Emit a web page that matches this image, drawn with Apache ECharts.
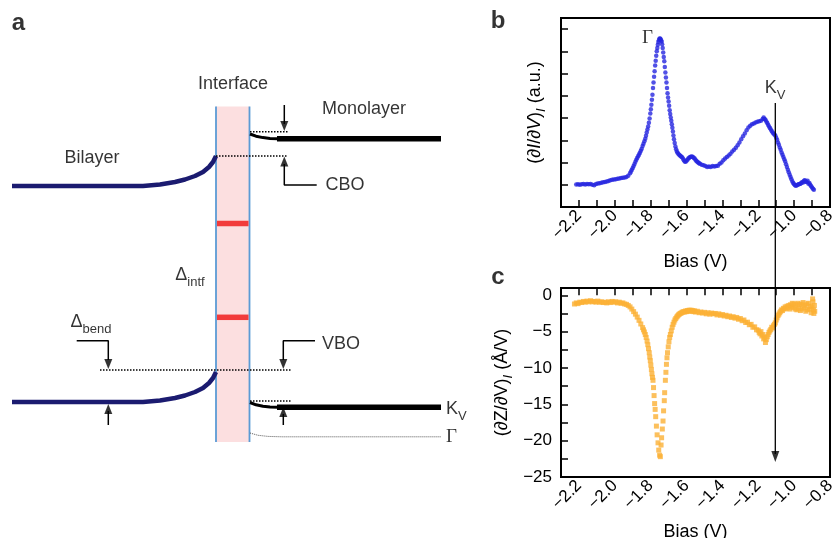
<!DOCTYPE html>
<html>
<head>
<meta charset="utf-8">
<style>html,body{margin:0;padding:0;background:#fff}#chart{width:834px;height:538px}</style>
<script src="https://cdn.jsdelivr.net/npm/echarts@6/dist/echarts.min.js"></script>
</head>
<body>
<div id="chart"></div>
<script>
// ---- panel b : (dI/dV) spectrum, [bias (V), a.u.] ----
const didvB = [
  [-2.215,1.01],[-2.205,1.02],[-2.195,1.00],[-2.185,1.02],[-2.175,1.03],[-2.165,1.01],[-2.155,1.03],[-2.145,1.02],
  [-2.135,1.04],[-2.125,1.00],[-2.115,0.98],[-2.105,1.04],[-2.095,1.06],[-2.085,1.07],[-2.075,1.09],[-2.065,1.11],
  [-2.055,1.12],[-2.045,1.15],[-2.035,1.17],[-2.025,1.20],[-2.015,1.22],[-2.005,1.24],[-1.995,1.25],[-1.985,1.27],
  [-1.975,1.28],[-1.965,1.30],[-1.955,1.31],[-1.945,1.33],[-1.935,1.35],[-1.925,1.40],[-1.915,1.52],[-1.910,1.60],
  [-1.905,1.68],[-1.900,1.75],[-1.895,1.84],[-1.890,1.93],[-1.885,2.03],[-1.880,2.12],[-1.875,2.20],[-1.870,2.28],
  [-1.865,2.36],[-1.860,2.44],[-1.855,2.53],[-1.850,2.62],[-1.845,2.74],[-1.840,2.85],[-1.835,2.96],[-1.830,3.07],
  [-1.826,3.20],[-1.822,3.35],[-1.818,3.48],[-1.814,3.62],[-1.810,3.79],[-1.806,3.98],[-1.802,4.20],[-1.799,4.40],
  [-1.796,4.60],[-1.793,4.82],[-1.790,5.05],[-1.787,5.35],[-1.784,5.60],[-1.781,5.86],[-1.778,6.10],[-1.775,6.36],
  [-1.772,6.58],[-1.769,6.80],[-1.766,7.00],[-1.763,7.15],[-1.760,7.30],[-1.757,7.42],[-1.754,7.50],[-1.751,7.57],
  [-1.748,7.58],[-1.745,7.55],[-1.742,7.50],[-1.739,7.44],[-1.736,7.32],[-1.733,7.15],[-1.730,6.95],[-1.727,6.75],
  [-1.724,6.55],[-1.721,6.30],[-1.718,6.05],[-1.715,5.82],[-1.712,5.60],[-1.709,5.35],[-1.706,5.12],[-1.703,4.92],
  [-1.700,4.75],[-1.697,4.55],[-1.694,4.35],[-1.691,4.18],[-1.688,4.02],[-1.685,3.88],[-1.682,3.72],[-1.679,3.56],
  [-1.676,3.40],[-1.673,3.22],[-1.670,3.05],[-1.666,2.88],[-1.662,2.72],[-1.658,2.60],[-1.654,2.50],[-1.650,2.44],
  [-1.645,2.38],[-1.640,2.34],[-1.635,2.30],[-1.630,2.27],[-1.625,2.24],[-1.620,2.18],[-1.615,2.10],[-1.610,2.05],
  [-1.605,2.03],[-1.600,2.08],[-1.595,2.13],[-1.590,2.18],[-1.585,2.22],[-1.580,2.25],[-1.575,2.26],[-1.570,2.27],
  [-1.565,2.25],[-1.560,2.22],[-1.555,2.18],[-1.550,2.12],[-1.545,2.07],[-1.540,2.03],[-1.535,2.00],[-1.530,1.97],
  [-1.525,1.95],[-1.515,1.90],[-1.505,1.88],[-1.495,1.84],[-1.485,1.80],[-1.475,1.82],[-1.465,1.80],[-1.455,1.84],
  [-1.445,1.82],[-1.435,1.84],[-1.425,1.86],[-1.415,1.95],[-1.405,2.00],[-1.395,2.10],[-1.385,2.18],[-1.375,2.25],
  [-1.365,2.32],[-1.355,2.40],[-1.345,2.50],[-1.335,2.58],[-1.325,2.66],[-1.315,2.78],[-1.305,2.90],[-1.295,3.05],
  [-1.285,3.18],[-1.275,3.30],[-1.265,3.45],[-1.255,3.58],[-1.245,3.65],[-1.235,3.72],[-1.225,3.76],[-1.215,3.80],
  [-1.205,3.83],[-1.195,3.86],[-1.185,3.88],[-1.175,3.96],[-1.170,4.02],[-1.165,3.96],[-1.160,3.92],[-1.155,3.85],
  [-1.150,3.78],[-1.145,3.70],[-1.140,3.62],[-1.135,3.55],[-1.130,3.48],[-1.125,3.42],[-1.120,3.35],[-1.115,3.30],
  [-1.110,3.26],[-1.105,3.22],[-1.100,3.12],[-1.095,3.02],[-1.090,2.90],[-1.085,2.80],[-1.080,2.68],[-1.075,2.58],
  [-1.070,2.45],[-1.065,2.35],[-1.060,2.25],[-1.055,2.15],[-1.050,2.05],[-1.045,1.92],[-1.040,1.80],[-1.035,1.68],
  [-1.030,1.56],[-1.025,1.45],[-1.020,1.35],[-1.015,1.25],[-1.010,1.15],[-1.005,1.08],[-1.000,1.02],[-0.995,0.98],
  [-0.990,0.96],[-0.985,0.98],[-0.980,1.00],[-0.975,1.02],[-0.970,1.03],[-0.965,1.05],[-0.960,1.08],[-0.955,1.12],
  [-0.950,1.10],[-0.945,1.18],[-0.940,1.20],[-0.935,1.14],[-0.930,1.12],[-0.925,1.18],[-0.920,1.05],[-0.915,1.08],
  [-0.910,1.00],[-0.905,0.93],[-0.900,0.88],[-0.895,0.82],[-0.890,0.78]
];

// ---- panel c : (dZ/dV) spectrum, [bias (V), Å/V] ----
const dzdvC = [
  [-2.225,-1.20],[-2.215,-1.05],[-2.205,-1.15],[-2.195,-0.95],[-2.185,-1.00],[-2.175,-0.85],[-2.165,-0.95],[-2.155,-0.80],
  [-2.145,-0.90],[-2.135,-0.75],[-2.125,-0.90],[-2.115,-0.85],[-2.105,-0.95],[-2.095,-0.80],[-2.085,-0.95],[-2.075,-0.90],
  [-2.065,-1.00],[-2.055,-0.95],[-2.045,-1.05],[-2.035,-0.90],[-2.025,-1.00],[-2.015,-0.85],[-2.005,-0.95],[-1.995,-0.90],
  [-1.985,-1.05],[-1.975,-0.95],[-1.965,-1.10],[-1.955,-1.05],[-1.945,-1.20],[-1.935,-1.25],[-1.925,-1.40],[-1.915,-1.60],
  [-1.905,-1.90],[-1.895,-2.25],[-1.885,-2.60],[-1.875,-3.00],[-1.865,-3.45],[-1.855,-3.95],[-1.845,-4.45],[-1.840,-4.75],
  [-1.835,-5.05],[-1.830,-5.40],[-1.825,-5.80],[-1.820,-6.30],[-1.816,-6.80],[-1.812,-7.35],[-1.808,-7.90],[-1.805,-8.50],
  [-1.802,-9.00],[-1.799,-9.60],[-1.796,-10.20],[-1.793,-10.80],[-1.790,-11.30],[-1.787,-11.70],[-1.784,-12.70],[-1.781,-13.80],
  [-1.778,-14.90],[-1.775,-15.70],[-1.772,-16.70],[-1.768,-18.00],[-1.764,-19.20],[-1.759,-20.30],[-1.755,-21.30],[-1.750,-22.00],
  [-1.746,-22.20],[-1.742,-20.60],[-1.739,-19.60],[-1.735,-18.40],[-1.731,-17.30],[-1.728,-15.90],[-1.724,-14.50],[-1.722,-13.40],
  [-1.718,-11.70],[-1.715,-10.60],[-1.712,-9.50],[-1.709,-8.60],[-1.706,-7.90],[-1.702,-7.10],[-1.698,-6.40],[-1.694,-5.80],
  [-1.690,-5.40],[-1.685,-4.90],[-1.680,-4.40],[-1.675,-4.00],[-1.670,-3.70],[-1.665,-3.40],[-1.660,-3.20],[-1.655,-3.00],
  [-1.650,-2.85],[-1.645,-2.70],[-1.640,-2.60],[-1.635,-2.50],[-1.630,-2.45],[-1.625,-2.35],[-1.620,-2.30],[-1.615,-2.25],
  [-1.610,-2.30],[-1.605,-2.15],[-1.600,-2.25],[-1.595,-2.10],[-1.590,-2.20],[-1.585,-2.05],[-1.580,-2.15],[-1.575,-2.05],
  [-1.570,-2.20],[-1.565,-2.10],[-1.560,-2.25],[-1.555,-2.15],[-1.550,-2.30],[-1.540,-2.20],[-1.530,-2.40],[-1.520,-2.30],
  [-1.510,-2.45],[-1.500,-2.35],[-1.490,-2.55],[-1.480,-2.40],[-1.470,-2.60],[-1.460,-2.45],[-1.450,-2.55],[-1.440,-2.50],
  [-1.430,-2.70],[-1.420,-2.55],[-1.410,-2.75],[-1.400,-2.65],[-1.390,-2.85],[-1.380,-2.75],[-1.370,-2.95],[-1.360,-2.85],
  [-1.350,-3.05],[-1.340,-2.95],[-1.330,-3.15],[-1.320,-3.05],[-1.310,-3.30],[-1.300,-3.20],[-1.290,-3.50],[-1.280,-3.40],
  [-1.270,-3.75],[-1.260,-3.70],[-1.250,-4.05],[-1.240,-4.00],[-1.230,-4.40],[-1.220,-4.35],[-1.210,-4.75],[-1.200,-4.80],
  [-1.195,-5.10],[-1.190,-5.30],[-1.185,-5.00],[-1.180,-5.60],[-1.175,-5.40],[-1.170,-6.00],[-1.165,-5.80],[-1.160,-6.50],
  [-1.155,-6.10],[-1.150,-5.70],[-1.145,-5.40],[-1.140,-5.10],[-1.135,-4.90],[-1.130,-4.70],[-1.125,-4.40],[-1.120,-4.50],
  [-1.115,-4.20],[-1.110,-4.00],[-1.105,-3.80],[-1.100,-3.40],[-1.095,-3.10],[-1.090,-2.80],[-1.085,-2.60],[-1.080,-2.40],
  [-1.075,-2.20],[-1.070,-2.00],[-1.065,-2.10],[-1.060,-1.80],[-1.055,-1.90],[-1.050,-1.60],[-1.045,-1.80],[-1.040,-1.50],
  [-1.035,-1.70],[-1.030,-1.40],[-1.025,-1.90],[-1.020,-1.30],[-1.015,-1.60],[-1.010,-1.10],[-1.005,-1.70],[-1.000,-1.20],
  [-0.995,-1.90],[-0.990,-1.30],[-0.985,-2.00],[-0.980,-1.10],[-0.975,-1.80],[-0.970,-1.30],[-0.965,-2.10],[-0.960,-1.20],
  [-0.955,-1.90],[-0.950,-1.00],[-0.945,-1.70],[-0.940,-1.40],[-0.935,-2.20],[-0.930,-1.20],[-0.925,-2.00],[-0.920,-1.10],
  [-0.915,-1.90],[-0.910,-1.50],[-0.905,-2.40],[-0.900,-1.60],[-0.897,-0.50],[-0.895,-0.90],[-0.892,-2.00],[-0.890,-2.50],
  [-0.887,-1.40],[-0.885,-2.20]
];

const kvBias = -1.105;          // K_V marker position (V)
const kvLineTop = 103;          // page px
const kvArrowTip = 462;

// ---- panel a : band schematic, page-pixel units on a hidden grid ----
const bilayerCB = [[12,186],[143,186],[160,184.5],[175,182],[185,179.5],[195,176],[203,172],[209,167],[213,162],[216,156]];
const bilayerVB = [[12,402],[143,402],[160,400.5],[175,398],[185,395.5],[195,392],[203,388],[209,383],[213,378],[216,372]];
const monoCBbend = [[250,134],[256,136.2],[263,137.6],[270,138.4],[278,138.7]];
const monoCB = [[277,138.7],[441,138.7]];
const monoVBbend = [[250,402.5],[256,404.8],[263,406.3],[270,407.1],[278,407.3]];
const monoVB = [[277,407.3],[441,407.3]];
const gammaLevel = [[250,433],[258,435.3],[268,436.4],[282,436.8],[441,436.8]];
const dottedLevels = [
  [[250,131.7],[288,131.7]],
  [[216,156],[288,156]],
  [[100,370],[291,370]],
  [[250,401],[291,401]]
];
const arrowShafts = [
  [[284.3,105],[284.3,124]],
  [[316.7,185],[284.3,185],[284.3,164]],
  [[76.7,340.7],[108.3,340.7],[108.3,360]],
  [[315,340.7],[283.3,340.7],[283.3,360]],
  [[108.3,425],[108.3,411]],
  [[283.3,425],[283.3,414]]
];
// arrow heads: [x, y(center), rotation]
const arrowHeads = [[284.3,126,180],[284.3,161.5,0],[108.3,364,180],[283.3,364,180],[108.3,409,0],[283.3,412,0]];
const wallX = [216, 249.5];
const wallY = [106.5, 442];
const intfStates = [[[217,223.5],[248.5,223.5]], [[217,317.3],[248.5,317.3]]];

// text: [rich text, x, y, align]
const texts = [
  ['{pl|a}', 18.5, 23, 'center'],
  ['{pl|b}', 498, 21, 'center'],
  ['{pl|c}', 498, 277, 'center'],
  ['{t|Interface}', 233, 84, 'center'],
  ['{t|Monolayer}', 364, 109, 'center'],
  ['{t|Bilayer}', 92, 158, 'center'],
  ['{t|CBO}', 345, 185, 'center'],
  ['{d|Δ}{s|intf}', 190, 275, 'center'],
  ['{d|Δ}{s|bend}', 91, 322, 'center'],
  ['{t|VBO}', 341, 344, 'center'],
  ['{d|K}{s|V}', 446, 409, 'left'],
  ['{g|Γ}', 446, 437.5, 'left'],
  ['{g|Γ}', 647.5, 38, 'center'],
  ['{d|K}{s|V}', 775, 88, 'center']
];

const FONT = '"Liberation Sans", Arial, Helvetica, sans-serif';
const SERIF = '"Liberation Serif", "DejaVu Serif", serif';
const NAVY = '#1b1b70';
const WALL = '#5b9bd5';

const rich = {
  pl: {fontFamily: FONT, fontSize: 24, fontWeight: 'bold', color: '#000'},
  t: {fontFamily: FONT, fontSize: 18, color: '#000'},
  d: {fontFamily: FONT, fontSize: 18, color: '#000', lineHeight: 28},
  s: {fontFamily: FONT, fontSize: 13, color: '#000', lineHeight: 13, verticalAlign: 'bottom'},
  g: {fontFamily: SERIF, fontSize: 19, color: '#000'}
};

function minus(v, digits) {
  const s = Math.abs(v).toFixed(digits);
  return (v < -1e-9 ? '\u2212' : '') + s;
}

function seg(data, color, width, type, z) {
  return {
    type: 'line', xAxisIndex: 0, yAxisIndex: 0, data: data, symbol: 'none',
    smooth: false, silent: true, z: z || 3,
    lineStyle: {color: color, width: width, type: type || 'solid', cap: 'butt'}
  };
}

const chart = echarts.init(document.getElementById('chart'), null, {renderer: 'canvas'});

const series = [];
// interface region
series.push({
  type: 'line', xAxisIndex: 0, yAxisIndex: 0, data: [], symbol: 'none', z: 1,
  markArea: {
    silent: true,
    itemStyle: {color: '#fcdfe0'},
    data: [[{coord: [wallX[0], wallY[0]]}, {coord: [wallX[1], wallY[1]]}]]
  }
});
wallX.forEach(x => series.push(seg([[x, wallY[0]], [x, wallY[1]]], WALL, 1.8, 'solid', 2)));
intfStates.forEach(d => series.push(seg(d, '#f23b3b', 5.5, 'solid', 2)));
series.push(seg(bilayerCB, NAVY, 4.5));
series.push(seg(bilayerVB, NAVY, 4.5));
series.push(seg(monoCBbend, '#000', 3));
series.push(seg(monoCB, '#000', 5.5));
series.push(seg(monoVBbend, '#000', 3));
series.push(seg(monoVB, '#000', 5.5));
series.push(seg(gammaLevel, '#555', 1, 'dotted'));
dottedLevels.forEach(d => series.push(seg(d, '#000', 1.5, 'dotted')));
arrowShafts.forEach(d => series.push(seg(d, '#000', 1.5)));
series.push({
  type: 'scatter', xAxisIndex: 0, yAxisIndex: 0, symbol: 'triangle', symbolSize: [8, 10], silent: true, z: 4,
  itemStyle: {color: '#000'},
  data: arrowHeads.map(a => ({value: [a[0], a[1]], symbolRotate: a[2]}))
});
series.push({
  type: 'scatter', xAxisIndex: 0, yAxisIndex: 0, symbolSize: 1, silent: true, z: 5,
  itemStyle: {color: 'rgba(0,0,0,0)'},
  data: texts.map(t => ({
    value: [t[1], t[2]],
    label: {show: true, position: 'inside', formatter: t[0], rich: rich, align: t[3], verticalAlign: 'middle',
            color: '#000', textBorderWidth: 0}
  }))
});
// panel b
series.push({
  type: 'scatter', xAxisIndex: 1, yAxisIndex: 1, data: didvB, symbol: 'circle', symbolSize: 4.5,
  itemStyle: {color: '#2626e0'}, silent: true, z: 3
});
// panel c
series.push({
  type: 'scatter', xAxisIndex: 2, yAxisIndex: 2, data: dzdvC, symbol: 'rect', symbolSize: 5,
  itemStyle: {color: '#fbb034'}, silent: true, z: 3
});

const tickStyle = {inside: true, length: 7, lineStyle: {color: '#000', width: 1.5}};
const labelBase = {color: '#000', fontFamily: FONT, fontSize: 17};
const nameStyle = {color: '#000', fontFamily: FONT, fontSize: 18};

function biasAxis(grid) {
  return {
    gridIndex: grid, type: 'value', min: -2.3, max: -0.8, interval: 0.1,
    axisLine: {show: false}, splitLine: {show: false}, axisTick: tickStyle,
    axisLabel: Object.assign({}, labelBase, {
      rotate: 45, margin: 6, hideOverlap: false,
      formatter: v => (Math.round(v * 10) % 2 === 0 ? minus(v, 1) : '')
    }),
    name: 'Bias (V)', nameLocation: 'middle', nameGap: 46, nameMoveOverlap: false,
    nameTextStyle: nameStyle
  };
}

const option = {
  animation: false,
  backgroundColor: '#fff',
  grid: [
    {left: 0, top: 0, width: 834, height: 538, show: false, outerBoundsMode: 'none', containLabel: false},
    {left: 561, top: 18, width: 269, height: 189, show: true, borderColor: '#000', borderWidth: 2,
     backgroundColor: 'transparent', outerBoundsMode: 'none', containLabel: false},
    {left: 561, top: 288, width: 269, height: 189, show: true, borderColor: '#000', borderWidth: 2,
     backgroundColor: 'transparent', outerBoundsMode: 'none', containLabel: false}
  ],
  xAxis: [
    {gridIndex: 0, type: 'value', min: 0, max: 834, show: false},
    biasAxis(1),
    biasAxis(2)
  ],
  yAxis: [
    {gridIndex: 0, type: 'value', min: 0, max: 538, inverse: true, show: false},
    {
      gridIndex: 1, type: 'value', min: 0, max: 8.5, interval: 1,
      axisLine: {show: false}, splitLine: {show: false}, axisTick: tickStyle,
      axisLabel: {show: false},
      name: '{n|(∂}{i|I}{n|/∂}{i|V}{n|)}{sub|I}{n| (a.u.)}', nameLocation: 'middle', nameGap: 13,
      nameMoveOverlap: false,
      nameTextStyle: {
        color: '#000',
        rich: {
          n: {fontFamily: FONT, fontSize: 18, color: '#000', lineHeight: 26},
          i: {fontFamily: FONT, fontSize: 18, color: '#000', fontStyle: 'italic', lineHeight: 26},
          sub: {fontFamily: FONT, fontSize: 13, color: '#000', fontStyle: 'italic', lineHeight: 13, verticalAlign: 'bottom'}
        }
      }
    },
    {
      gridIndex: 2, type: 'value', min: -25, max: 1, interval: 2.5,
      axisLine: {show: false}, splitLine: {show: false}, axisTick: tickStyle,
      axisLabel: Object.assign({}, labelBase, {
        margin: 9,
        formatter: v => (Math.abs(v % 5) < 1e-6 ? minus(v, 0) : '')
      }),
      name: '{n|(∂Z/∂V)}{sub|I}{n| (Å/V)}', nameLocation: 'middle', nameGap: 46,
      nameMoveOverlap: false,
      nameTextStyle: {
        color: '#000',
        rich: {
          n: {fontFamily: FONT, fontSize: 18, color: '#000', lineHeight: 26},
          sub: {fontFamily: FONT, fontSize: 13, color: '#000', fontStyle: 'italic', lineHeight: 13, verticalAlign: 'bottom'}
        }
      }
    }
  ],
  series: series
};

chart.setOption(option);

// K_V marker: vertical arrow from panel b down into panel c at the K_V bias
const kvX = chart.convertToPixel({xAxisIndex: 1}, kvBias);
option.series.push(seg([[kvX, kvLineTop], [kvX, kvArrowTip - 8]], '#000', 1.3, 'solid', 6));
option.series.push({
  type: 'scatter', xAxisIndex: 0, yAxisIndex: 0, symbol: 'triangle', symbolSize: [8, 11], silent: true, z: 6,
  itemStyle: {color: '#000'}, data: [{value: [kvX, kvArrowTip - 5.5], symbolRotate: 180}]
});
chart.setOption(option, true);
</script>
</body>
</html>
